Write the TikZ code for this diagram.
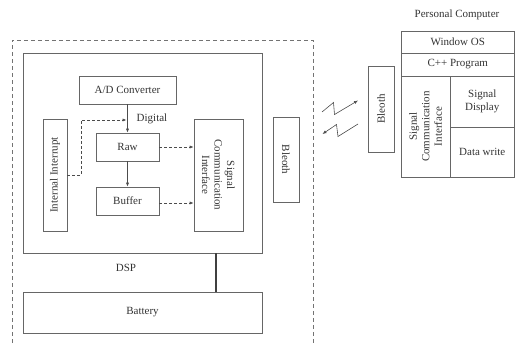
\documentclass[tikz,border=0pt]{standalone}
\usepackage{fontspec}
\setmainfont{Liberation Serif}
\usetikzlibrary{arrows.meta}
\begin{document}
\begin{tikzpicture}[x=1pt,y=-1pt,
  every node/.style={font=\fontsize{11}{12.5}\selectfont, text=black!80, inner sep=0pt},
  box/.style={draw=black!60, line width=0.7pt, rectangle, align=center},
  tip/.style={-{Latex[length=4pt,width=3.2pt]}},
  solidarrow/.style={draw=black!70, line width=0.7pt, tip},
  dasharrow/.style={draw=black!70, line width=0.7pt, dash pattern=on 3pt off 2pt, tip},
  border/.style={draw=black!55, line width=0.7pt, dash pattern=on 4pt off 3pt},
  zig/.style={draw=black!70, line width=0.6pt, tip}
]
\useasboundingbox (0,0) rectangle (515,345);
% outer dashed border
\coordinate (bl) at (12,343);
\coordinate (tl) at (12,40);
\coordinate (tr) at (313,40);
\coordinate (br) at (313,343);
\draw[border] (bl) -- (tl) -- (tr) -- (br);

% DSP and battery
\node[box, minimum width=239pt, minimum height=200pt] (dsp) at (142.5,153) {};
\node[box, minimum width=239pt, minimum height=41pt] (bat) at (142.5,312.5) {Battery};
\node (dsplbl) at (126,268) {DSP};
\draw[black!75, line width=2pt] ([xshift=73.5pt]dsp.south) -- ([xshift=73.5pt]bat.north);

% inner blocks
\node[box, minimum width=97pt, minimum height=28pt] (ad) at (127.5,90) {A/D Converter};
\node[box, minimum width=63pt, minimum height=28pt] (raw) at (127.5,147) {Raw};
\node[box, minimum width=63pt, minimum height=28pt] (buf) at (127.5,201) {Buffer};
\node[box, rotate=90, minimum width=112pt, minimum height=24pt] (intr) at (55,175) {Internal Interrupt};
\node[box, rotate=-90, minimum width=112pt, minimum height=49pt] (sci) at (218.5,175) {Signal\\Communication\\Interface};
\node[box, rotate=-90, minimum width=85pt, minimum height=26pt] (bl1) at (286,159.5) {Bleoth};
\node (dig) at (152,119) {Digital};

\draw[solidarrow] (ad.south) -- (raw.north);
\draw[solidarrow] (raw.south) -- (buf.north);
\coordinate (digin) at (126.5,120);
\draw[dasharrow] (intr.south) -- ++(14,0) |- (digin);
\draw[dasharrow] (raw.east) -- (raw.east -| sci.south);
\draw[dasharrow] ([yshift=-2pt]buf.east) -- ([yshift=-2pt]buf.east -| sci.south);

% right Bleoth
\node[box, rotate=90, minimum width=86pt, minimum height=26pt] (bl2) at (381,109) {Bleoth};

% zigzag wireless arrows
\coordinate (za0) at (322,112);
\coordinate (za1) at (333.5,102.5);
\coordinate (za2) at (334.5,114.5);
\coordinate (za3) at (358,100.5);
\draw[zig] (za0) -- (za1) -- (za2) -- (za3);
\coordinate (zb0) at (358,124);
\coordinate (zb1) at (338,136.5);
\coordinate (zb2) at (336.5,124.5);
\coordinate (zb3) at (322.5,134);
\draw[zig] (zb0) -- (zb1) -- (zb2) -- (zb3);

% Personal computer
\node (pclbl) at (457,15) {Personal Computer};
\node[box, minimum width=113.5pt, minimum height=22pt] (win) at (457.75,42) {Window OS};
\node[box, minimum width=113.5pt, minimum height=23pt] (cpp) at (457.75,64.5) {C++ Program};
\node[box, rotate=90, minimum width=101pt, minimum height=49pt] (psci) at (425.5,126.5) {Signal\\Communication\\Interface};
\node[box, minimum width=64.5pt, minimum height=51pt] (disp) at (482.25,101.5) {Signal\\Display};
\node[box, minimum width=64.5pt, minimum height=50pt] (dw) at (482.25,152) {Data write};
\end{tikzpicture}
\end{document}
